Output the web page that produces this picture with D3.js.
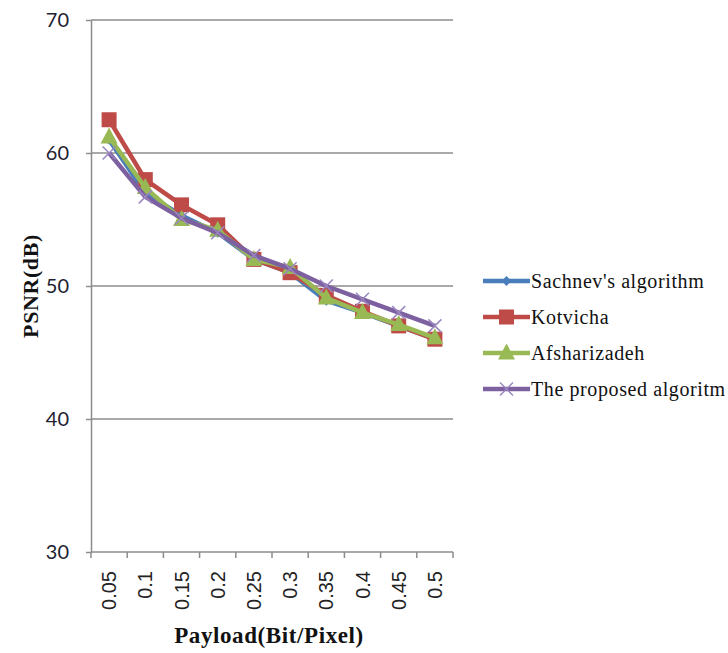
<!DOCTYPE html>
<html>
<head>
<meta charset="utf-8">
<script src="https://cdn.jsdelivr.net/npm/d3@7/dist/d3.min.js"></script>
<style>
  html, body { margin: 0; padding: 0; background: #fff; }
  svg { display: block; }
</style>
</head>
<body>
<svg id="chart" width="728" height="653"></svg>
<script>
// Payload (bits per pixel) categories
const payloads = ["0.05", "0.1", "0.15", "0.2", "0.25", "0.3", "0.35", "0.4", "0.45", "0.5"];

// PSNR (dB) per method
const sachnev  = [61.0, 57.0, 55.3, 54.0, 52.0, 51.0, 48.9, 48.0, 47.0, 46.0];
const kotvicha = [62.5, 58.0, 56.1, 54.6, 52.0, 51.0, 49.3, 48.1, 47.0, 46.0];
const afshar   = [61.2, 57.4, 55.0, 54.2, 52.0, 51.4, 49.1, 48.0, 47.1, 46.1];
const proposed = [60.0, 56.7, 55.1, 54.0, 52.3, 51.3, 50.0, 49.0, 48.0, 47.0];

const yTicks = [30, 40, 50, 60, 70];

const seriesNames = ["Sachnev's algorithm", "Kotvicha", "Afsharizadeh", "The proposed algoritm"];
const seriesData = [sachnev, kotvicha, afshar, proposed];
const seriesColors = ["#4A7EBB", "#BE4B48", "#98B954", "#7D60A0"];
const markerKinds = ["diamond", "square", "triangle", "cross"];

const svg = d3.select("#chart");
const plotL = 91, plotR = 453, plotT = 20, plotB = 552;

const x = d3.scaleBand().domain(payloads).range([plotL, plotR]);
const y = d3.scaleLinear().domain([30, 70]).range([plotB, plotT]);

// horizontal gridlines
svg.append("g").selectAll("line").data(yTicks.filter(t => t > 30)).join("line")
  .attr("x1", plotL).attr("x2", plotR)
  .attr("y1", d => y(d)).attr("y2", d => y(d))
  .attr("stroke", "#8c8c8c").attr("stroke-width", 1.5);

// y axis
const yAxis = svg.append("g").attr("transform", `translate(${plotL},0)`)
  .call(d3.axisLeft(y).tickValues(yTicks).tickSize(5).tickPadding(17).tickSizeOuter(0));
yAxis.select(".domain").attr("stroke", "#8c8c8c").attr("stroke-width", 1.5);
yAxis.selectAll(".tick line").attr("stroke", "#8c8c8c").attr("stroke-width", 1.5);
yAxis.selectAll(".tick text")
  .attr("font-family", "Lato, 'Open Sans', sans-serif")
  .attr("font-size", 20).attr("fill", "#1e2230");

// x axis with ticks at category boundaries
const xAxis = svg.append("g").attr("transform", `translate(0,${plotB})`);
xAxis.append("line").attr("x1", plotL).attr("x2", plotR)
  .attr("stroke", "#8c8c8c").attr("stroke-width", 1.5);
const boundaries = payloads.map(p => x(p)).concat([plotR]);
xAxis.selectAll("line.tk").data(boundaries).join("line").attr("class", "tk")
  .attr("x1", d => d).attr("x2", d => d).attr("y1", 0).attr("y2", 6)
  .attr("stroke", "#8c8c8c").attr("stroke-width", 1.5);
xAxis.selectAll("text").data(payloads).join("text")
  .attr("transform", d => `translate(${x(d) + x.bandwidth() / 2 + 7},${19}) rotate(-90)`)
  .attr("text-anchor", "end")
  .attr("font-family", "'Liberation Sans Narrow', 'Liberation Sans', Arial, sans-serif")
  .attr("font-size", 20).attr("fill", "#222")
  .text(d => d);

// marker shapes
function drawMarker(g, kind, color, cx, cy) {
  if (kind === "square") {
    g.append("rect").attr("x", cx - 7.5).attr("y", cy - 7.5).attr("width", 15).attr("height", 15)
      .attr("fill", color);
  } else if (kind === "triangle") {
    g.append("path").attr("d", `M${cx},${cy - 9.5}L${cx + 8.5},${cy + 6.5}L${cx - 8.5},${cy + 6.5}Z`)
      .attr("fill", color);
  } else if (kind === "diamond") {
    g.append("path").attr("d", `M${cx},${cy - 5}L${cx + 5},${cy}L${cx},${cy + 5}L${cx - 5},${cy}Z`)
      .attr("fill", color);
  } else {
    g.append("path").attr("d", `M${cx - 6.5},${cy - 6.5}L${cx + 6.5},${cy + 6.5}M${cx - 6.5},${cy + 6.5}L${cx + 6.5},${cy - 6.5}`)
      .attr("stroke", "#9b86c0").attr("stroke-width", 1.5).attr("fill", "none");
  }
}

const line = d3.line().x((d, i) => x(payloads[i]) + x.bandwidth() / 2).y(d => y(d));

seriesData.forEach((vals, s) => {
  const g = svg.append("g");
  g.append("path").datum(vals).attr("d", line)
    .attr("fill", "none").attr("stroke", seriesColors[s]).attr("stroke-width", 4.5)
    .attr("stroke-linejoin", "round");
  vals.forEach((v, i) => drawMarker(g, markerKinds[s], seriesColors[s], x(payloads[i]) + x.bandwidth() / 2, y(v)));
});

// legend
const legend = svg.append("g");
seriesNames.forEach((name, s) => {
  const ly = 281 + s * 36;
  const lg = legend.append("g");
  lg.append("line").attr("x1", 483).attr("x2", 530).attr("y1", ly).attr("y2", ly)
    .attr("stroke", seriesColors[s]).attr("stroke-width", 4.5);
  drawMarker(lg, markerKinds[s], seriesColors[s], 506.5, ly);
  lg.append("text").attr("x", 531).attr("y", ly + 7)
    .attr("font-family", "'Liberation Serif', 'Times New Roman', serif")
    .attr("font-size", 20).attr("letter-spacing", 0.6).attr("fill", "#111").text(name);
});

// axis titles
svg.append("text")
  .attr("transform", `translate(38,${(plotT + plotB) / 2}) rotate(-90)`)
  .attr("text-anchor", "middle")
  .attr("font-family", "'Liberation Serif', 'Times New Roman', serif")
  .attr("font-weight", "bold").attr("font-size", 22).attr("letter-spacing", 0.6).attr("fill", "#111")
  .text("PSNR(dB)");

svg.append("text")
  .attr("x", 269).attr("y", 643)
  .attr("text-anchor", "middle")
  .attr("font-family", "'Liberation Serif', 'Times New Roman', serif")
  .attr("font-weight", "bold").attr("font-size", 23).attr("letter-spacing", 0.6).attr("fill", "#111")
  .text("Payload(Bit/Pixel)");
</script>
</body>
</html>
